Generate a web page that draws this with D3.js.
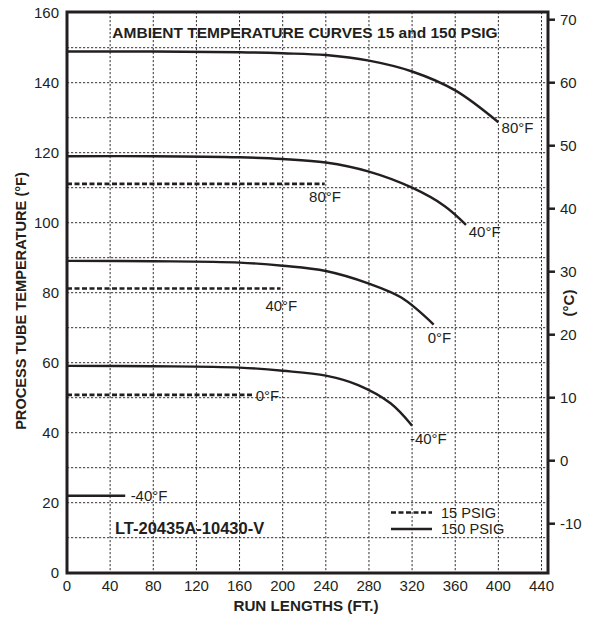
<!DOCTYPE html>
<html><head><meta charset="utf-8">
<script src="https://cdn.jsdelivr.net/npm/d3@7"></script>
<style>body{margin:0;background:#fff;} text{font-family:"Liberation Sans",Arial,sans-serif;fill:#231f20;}</style>
</head><body>
<svg id="c" width="591" height="617"></svg>
<script>
// ---- data ----
const xTicks = [0,40,80,120,160,200,240,280,320,360,400,440];
const yTicksF = [0,20,40,60,80,100,120,140,160];
const yTicksC = [-10,0,10,20,30,40,50,60,70];
// 150 PSIG curves (solid): [run length ft, temp °F]
const curve80 = [[0,148.9],[80,148.9],[160,148.7],[200,148.4],[240,147.9],[280,146.3],[320,143.2],[360,137.8],[400,128.7]];
const curve40 = [[0,119.0],[80,119.0],[160,118.7],[200,118.2],[240,117.2],[280,114.6],[320,110.0],[350,104.8],[370,99.4]];
const curve0  = [[0,89.1],[80,89.0],[160,88.6],[200,87.7],[240,86.2],[280,82.6],[310,78.6],[340,70.9]];
const curveM40 = [[0,59.1],[80,59.0],[160,58.6],[200,57.7],[240,56.3],[270,53.6],[300,48.4],[320,42.0]];
const curveM40flat = [[0,22.0],[54,22.0]];
// 15 PSIG lines (dashed)
const dash80 = [[0,111.1],[239,111.1]];
const dash40 = [[0,81.2],[198,81.2]];
const dash0  = [[0,50.8],[172,50.8]];
const solidSeries = [curve80, curve40, curve0, curveM40, curveM40flat];
const dashSeries = [dash80, dash40, dash0];
// labels: [text, x ft, temp °F]
const curveLabels = [["80°F",403,127.2],["40°F",372.5,97.5],["0°F",334.5,67.2],["-40°F",318,38.3],["-40°F",59,22.0],
                     ["80°F",224.5,107.5],["40°F",184,76.4],["0°F",175,50.6]];

// ---- chart ----
const svg = d3.select("#c");
const L=67, R=548, T=12, B=573;
const x = d3.scaleLinear().domain([0,440]).range([L,541.5]);
const y = d3.scaleLinear().domain([0,160]).range([572.7,12.7]);
const yC = c => y(c*1.8+32);

// grid
const g = svg.append("g");
d3.range(10,160,10).forEach(v=>{
  g.append("line").attr("x1",L).attr("x2",R).attr("y1",y(v)).attr("y2",y(v))
   .attr("stroke","#333").attr("stroke-width",1).attr("stroke-dasharray","2.2,1.8");
});
xTicks.slice(1).forEach(v=>{
  g.append("line").attr("x1",x(v)).attr("x2",x(v)).attr("y1",T).attr("y2",B)
   .attr("stroke","#333").attr("stroke-width",1).attr("stroke-dasharray","2.2,1.8");
});

// frame
svg.append("rect").attr("x",L).attr("y",T).attr("width",R-L).attr("height",B-T)
  .attr("fill","none").attr("stroke","#231f20").attr("stroke-width",3);

// axes labels
const fs = 15;
yTicksF.forEach(v=>{
  svg.append("text").attr("x",59).attr("y",y(v)).attr("dy","0.36em").attr("text-anchor","end")
   .attr("font-size",fs).text(v);
});
xTicks.forEach(v=>{
  svg.append("text").attr("x",x(v)).attr("y",591).attr("text-anchor","middle").attr("font-size",fs).text(v);
});
yTicksC.forEach(v=>{
  svg.append("line").attr("x1",R).attr("x2",R+7).attr("y1",yC(v)).attr("y2",yC(v)).attr("stroke","#231f20").attr("stroke-width",2.5);
  svg.append("text").attr("x",R+12).attr("y",yC(v)).attr("dy","0.36em").attr("font-size",fs).text(v);
});

svg.append("text").attr("x",306).attr("y",611).attr("text-anchor","middle").attr("font-size",15.2).attr("font-weight","bold").text("RUN LENGTHS (FT.)");
svg.append("text").attr("transform","translate(26,301) rotate(-90)").attr("text-anchor","middle").attr("font-size",14.6).attr("font-weight","bold").text("PROCESS TUBE TEMPERATURE (°F)");
svg.append("text").attr("transform","translate(574,303) rotate(-90)").attr("text-anchor","middle").attr("font-size",15).attr("font-weight","bold").text("(°C)");

svg.append("text").attr("x",305).attr("y",38).attr("text-anchor","middle").attr("font-size",15.5).attr("font-weight","bold").text("AMBIENT TEMPERATURE CURVES 15 and 150 PSIG");
svg.append("text").attr("x",115).attr("y",533.5).attr("font-size",16.5).attr("font-weight","bold").text("LT-20435A-10430-V");

// lines
const line = d3.line().x(d=>x(d[0])).y(d=>y(d[1])).curve(d3.curveCatmullRom.alpha(0.5));
solidSeries.forEach(s=>{
  svg.append("path").attr("d",line(s)).attr("fill","none").attr("stroke","#231f20").attr("stroke-width",2.4);
});
dashSeries.forEach(s=>{
  svg.append("path").attr("d",line(s)).attr("fill","none").attr("stroke","#231f20").attr("stroke-width",2.6).attr("stroke-dasharray","5,2.5");
});
curveLabels.forEach(l=>{
  svg.append("text").attr("x",x(l[1])).attr("y",y(l[2])).attr("dy","0.36em").attr("font-size",fs).text(l[0]);
});

// legend
svg.append("line").attr("x1",391).attr("x2",432).attr("y1",512.5).attr("y2",512.5).attr("stroke","#231f20").attr("stroke-width",2.4).attr("stroke-dasharray","5,2.5");
svg.append("line").attr("x1",391).attr("x2",432).attr("y1",529).attr("y2",529).attr("stroke","#231f20").attr("stroke-width",2.4);
svg.append("text").attr("x",441).attr("y",512.5).attr("dy","0.36em").attr("font-size",14.6).text("15 PSIG");
svg.append("text").attr("x",441).attr("y",529).attr("dy","0.36em").attr("font-size",14.6).text("150 PSIG");
</script>
</body></html>
